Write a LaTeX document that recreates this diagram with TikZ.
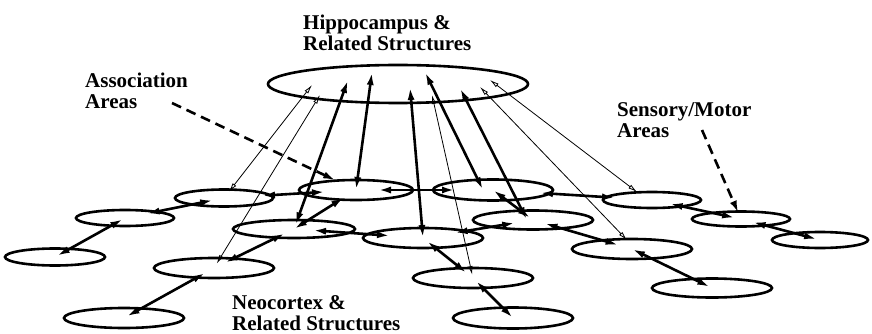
\documentclass[tikz,border=0pt]{standalone}
\usepackage{fontspec}
\setmainfont{Liberation Serif}
\usepackage{tikz}
\usetikzlibrary{arrows.meta,shapes.geometric}

\begin{document}
\begin{tikzpicture}[x=1pt, y=-1pt, area/.style={ellipse, draw, line width=2.6pt, inner sep=0pt, minimum width=120pt, minimum height=20pt}, smallarea/.style={area, minimum width=98pt, minimum height=16pt}, heavyarr/.style={line width=2.6pt, {Latex[length=13pt,width=7pt]}-{Latex[length=13pt,width=7pt]}}, lightarr/.style={line width=0.8pt, {Latex[open,length=9pt,width=4.5pt]}-{Latex[open,length=9pt,width=4.5pt]}}, sh/.style 2 args={shorten <=#1pt, shorten >=#2pt}, pointer/.style={line width=2.6pt, dash pattern=on 10pt off 6pt, -{Latex[length=13pt,width=7pt]}}, lbl/.style={anchor=north west, inner sep=0pt, align=left, font=\fontsize{21}{21}\selectfont\bfseries}]

\useasboundingbox (0,0) rectangle (872,334);

% hippocampus
\node[area, minimum width=260pt, minimum height=38pt] (hippo) at (398,84) {};
\node[lbl] (hippoLbl) at (303,14.5) {Hippocampus \&\\Related Structures};

% neocortex, left side
\node[smallarea, minimum width=100pt, minimum height=17pt] (n3) at (55,257) {};
\node[smallarea] (n2) at (125,218) {};
\node[smallarea, minimum height=17pt] (n1) at (224,198) {};
\node[area] (n4) at (214,268) {};
\node[area] (n5) at (124,318) {};

% neocortex, middle
\node[area, minimum width=114pt] (nA) at (356,190) {};
\node[area, minimum height=21pt] (nB) at (493,190) {};
\node[area, minimum width=122pt, minimum height=18pt] (nC) at (294,229) {};
\node[area] (nD) at (423,238) {};
\node[area, minimum height=19pt] (nE) at (533,220) {};
\node[area] (nF) at (473,278) {};
\node[area, minimum height=21pt] (nG) at (513,318) {};

% neocortex, right side
\node[area] (nH) at (632,249) {};
\node[smallarea] (nI) at (652,200) {};
\node[smallarea, minimum height=15pt] (nJ) at (741,219) {};
\node[smallarea, minimum width=96pt] (nK) at (820,240) {};
\node[area, minimum height=19pt] (nL) at (712,288) {};

\node[lbl] (neoLbl) at (232,295.5) {Neocortex \&\\Related Structures};
\node[lbl] (assocLbl) at (85,72.5) {Association\\Areas};
\node[lbl] (sensLbl) at (617,102.5) {Sensory/Motor\\Areas};

% ends on the hippocampus
\coordinate (h1) at (312,85);
\coordinate (h2) at (320,95);
\coordinate (h3) at (348,80);
\coordinate (h4) at (372,72);
\coordinate (h5) at (410,87);
\coordinate (h6) at (425,72);
\coordinate (h7) at (432,95);
\coordinate (h8) at (460,88);
\coordinate (h9) at (480,87);
\coordinate (h10) at (490,80);

% cortex to cortex
\path[heavyarr]
    (n3.center) edge[sh={2}{2}] (n2.center)
    (n2.center) edge[sh={22}{11}] (n1.center)
    (n1.center) edge[sh={38}{31}] (nA.center)
    (nA.center) edge[sh={22}{38}] (nB.center)
    (nA.center) edge[sh={14}{0}] (nC.center)
    (nC.center) edge[sh={10}{12}] (n4.center)
    (n4.center) edge[sh={10}{3}] (n5.center)
    (nC.center) edge[sh={19}{33}] (nD.center)
    (nD.center) edge[sh={32}{18}] (nE.center)
    (nD.center) edge[sh={5}{8}] (nF.center)
    (nF.center) edge[sh={4}{0}] (nG.center)
    (nB.center) edge[sh={0}{3}] (nE.center)
    (nE.center) edge[sh={12}{14}] (nH.center)
    (nH.center) edge[sh={0}{2}] (nL.center)
    (nB.center) edge[sh={47}{37}] (nI.center)
    (nI.center) edge[sh={18}{6}] (nJ.center)
    (nJ.center) edge[sh={12}{3}] (nK.center);

% cortex to hippocampus
\path[heavyarr]
    (h3) edge[sh={0}{4}] (nC.center)
    (h4) edge (nA.center)
    (h5) edge (nD.center)
    (h6) edge ([xshift=-10pt]nB.center)
    (h8) edge ([xshift=-6pt]nE.center);
\path[lightarr]
    (h1) edge[sh={0}{8}] (n1.center)
    (h2) edge[sh={0}{5}] (n4.center)
    (h7) edge[sh={0}{3}] (nF.center)
    (h9) edge ([xshift=-5pt,yshift=9pt]nH.center)
    (h10) edge ([xshift=-15pt,yshift=8pt]nI.center);

% pointers from the labels
\coordinate (assocTail) at (172,103);
\coordinate (sensTail) at (702,130);
\draw[pointer, shorten >=22pt] (assocTail) -- (nA.center);
\draw[pointer, shorten >=6pt] (sensTail) -- (nJ.center);
\end{tikzpicture}
\end{document}
